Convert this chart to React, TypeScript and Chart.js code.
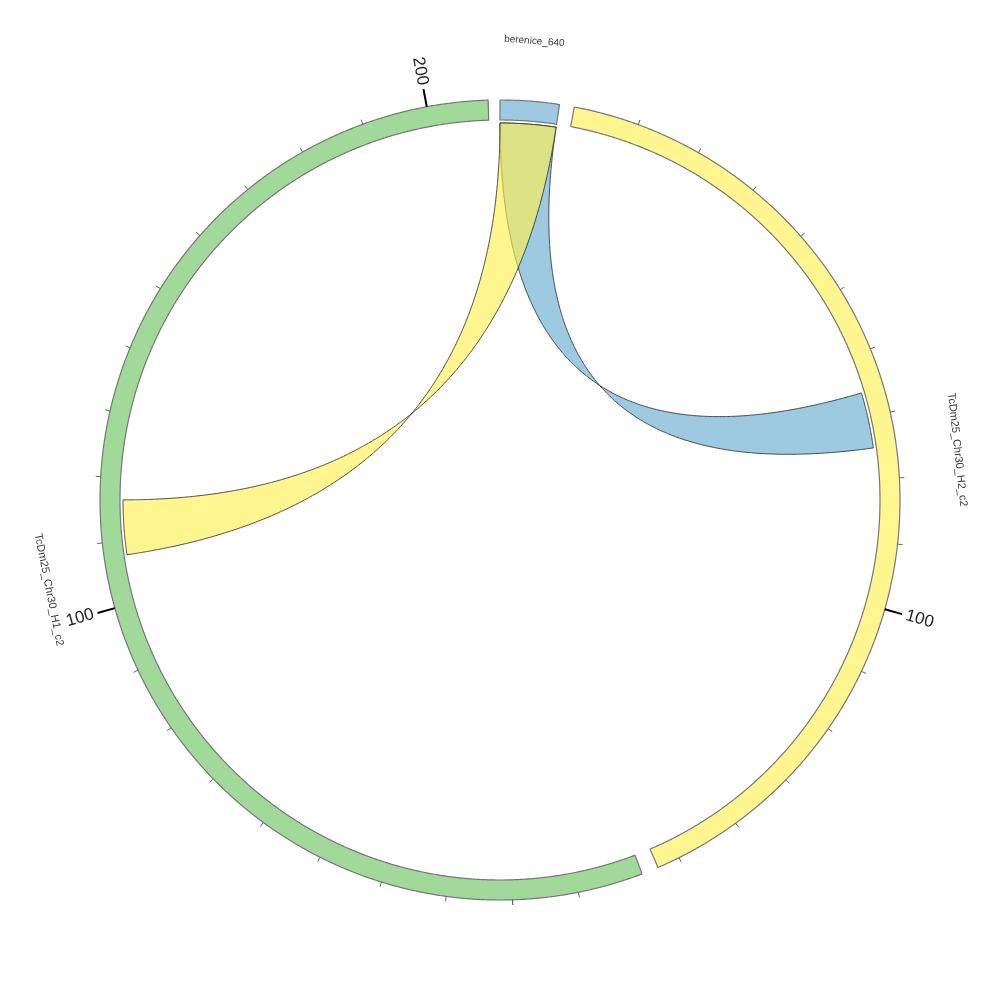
import React, { useEffect, useRef } from "react";
import { Chart, registerables } from "chart.js";

Chart.register(...registerables);

// ---------- data ----------
const sectorNames = ["berenice_640", "TcDm25_Chr30_H2_c2", "TcDm25_Chr30_H1_c2"];
const sectorLengths = [9, 153.5, 209.3];
const sectorColors = ["#9ECAE1", "#FFF68F", "#A1D99B"];
const sectorLabelSizes = [10, 11, 11];

const linkSource = [0, 0];
const linkSourceStart = [0, 0];
const linkSourceEnd = [9, 9];
const linkTarget = [1, 2];
const linkTargetStart = [66.0, 107.7];
const linkTargetEnd = [75.0, 116.5];
const linkColors = ["rgba(101,171,207,0.63)", "rgba(255,241,78,0.63)"];

const tickStep = 10;
const majorTickStep = 100;

// ---------- layout ----------
const GAPS_DEG = [2.15, 2.45, 1.7]; // gap after each sector
const R_OUT = 400;
const R_IN = 380;
const R_LINK = 377;
const R_LABEL = 460;
const MINOR_LEN = 5;
const MAJOR_LEN = 18;

const total = sectorLengths.reduce((a, b) => a + b, 0);
const gapTotal = GAPS_DEG.reduce((a, b) => a + b, 0);
const degPerUnit = (360 - gapTotal) / total;
const sectorStart: number[] = [];
{
  let acc = 0;
  sectorLengths.forEach((len, i) => {
    sectorStart.push(acc);
    acc += len * degPerUnit + GAPS_DEG[i];
  });
}
const ang = (s: number, v: number) => sectorStart[s] + v * degPerUnit;
const pol = (deg: number, r: number) => {
  const a = (deg * Math.PI) / 180;
  return { x: r * Math.sin(a), y: r * Math.cos(a) };
};
const arcPts = (a0: number, a1: number, r: number) => {
  const n = Math.max(2, Math.ceil(Math.abs(a1 - a0) / 0.4));
  const pts = [];
  for (let i = 0; i <= n; i++) pts.push(pol(a0 + ((a1 - a0) * i) / n, r));
  return pts;
};
const bezPts = (p0: { x: number; y: number }, p2: { x: number; y: number }) => {
  const n = 120;
  const pts = [];
  for (let i = 0; i <= n; i++) {
    const t = i / n;
    const a = (1 - t) * (1 - t);
    const c = t * t;
    pts.push({ x: a * p0.x + c * p2.x, y: a * p0.y + c * p2.y });
  }
  return pts;
};

function buildDatasets() {
  const seq: any[] = [];
  // sectors
  sectorLengths.forEach((len, s) => {
    const a0 = ang(s, 0);
    const a1 = ang(s, len);
    const pts = [...arcPts(a0, a1, R_OUT), ...arcPts(a1, a0, R_IN)];
    pts.push({ ...pts[0] });
    seq.push({
      data: pts,
      backgroundColor: sectorColors[s],
      borderColor: "#777777",
      borderWidth: 1.2,
      fill: "shape",
    });
  });
  // ticks
  const minor: any[] = [];
  const major: any[] = [];
  sectorLengths.forEach((len, s) => {
    for (let v = tickStep; v <= len; v += tickStep) {
      const a = ang(s, v);
      const isMajor = v % majorTickStep === 0;
      const target = isMajor ? major : minor;
      target.push(pol(a, R_OUT), pol(a, R_OUT + (isMajor ? MAJOR_LEN : MINOR_LEN)), { x: NaN, y: NaN });
    }
  });
  seq.push({ data: minor, borderColor: "#666666", borderWidth: 1, fill: false, tension: 0 });
  seq.push({ data: major, borderColor: "#000000", borderWidth: 2, fill: false, tension: 0 });
  // links
  linkSource.forEach((src, i) => {
    const tgt = linkTarget[i];
    const s1 = ang(src, linkSourceStart[i]);
    const s2 = ang(src, linkSourceEnd[i]);
    const t1 = ang(tgt, linkTargetStart[i]);
    const t2 = ang(tgt, linkTargetEnd[i]);
    const pts = [
      ...arcPts(s1, s2, R_LINK),
      ...bezPts(pol(s2, R_LINK), pol(t2, R_LINK)),
      ...arcPts(t2, t1, R_LINK),
      ...bezPts(pol(t1, R_LINK), pol(s1, R_LINK)),
    ];
    seq.push({
      data: pts,
      backgroundColor: linkColors[i],
      borderColor: "#1e1e1e",
      borderWidth: 0.8,
      borderJoinStyle: "bevel",
      fill: "shape",
    });
  });
  const n = seq.length;
  return seq.map((d, i) => ({
    showLine: true,
    pointRadius: 0,
    pointHoverRadius: 0,
    tension: 0.0001,
    capBezierPoints: false,
    order: n - i,
    ...d,
  }));
}

const labelPlugin = {
  id: "chordLabels",
  afterDatasetsDraw(chart: any) {
    const { ctx } = chart;
    const xs = chart.scales.x;
    const ys = chart.scales.y;
    const px = (p: { x: number; y: number }) => ({ x: xs.getPixelForValue(p.x), y: ys.getPixelForValue(p.y) });
    ctx.save();
    // sector names
    sectorNames.forEach((name, s) => {
      const mid = ang(s, sectorLengths[s] / 2);
      const p = px(pol(mid, R_LABEL));
      const norm = ((mid % 360) + 360) % 360;
      const rot = norm > 90 && norm < 270 ? norm - 180 : norm;
      ctx.save();
      ctx.translate(p.x, p.y);
      ctx.rotate((rot * Math.PI) / 180);
      ctx.font = `${sectorLabelSizes[s]}px "Liberation Sans", Arial, sans-serif`;
      ctx.fillStyle = "#3a3a3a";
      ctx.textAlign = "center";
      ctx.textBaseline = "middle";
      ctx.fillText(name, 0, 0);
      ctx.restore();
    });
    // major tick labels
    sectorLengths.forEach((len, s) => {
      for (let v = majorTickStep; v <= len; v += majorTickStep) {
        const a = ang(s, v);
        const norm = ((a % 360) + 360) % 360;
        const p = px(pol(a, R_OUT + MAJOR_LEN + 4));
        ctx.save();
        ctx.translate(p.x, p.y);
        let rot: number;
        if (norm > 180) {
          rot = norm - 270;
          ctx.textAlign = "right";
        } else {
          rot = norm - 90;
          ctx.textAlign = "left";
        }
        ctx.rotate((rot * Math.PI) / 180);
        ctx.font = `17px "Liberation Sans", Arial, sans-serif`;
        ctx.fillStyle = "#222222";
        ctx.textBaseline = "middle";
        ctx.fillText(String(v), 0, 0);
        ctx.restore();
      }
    });
    ctx.restore();
  },
};

export default function App() {
  const ref = useRef<HTMLCanvasElement | null>(null);
  useEffect(() => {
    if (!ref.current) return;
    const chart = new Chart(ref.current, {
      type: "scatter",
      data: { datasets: buildDatasets() as any },
      options: {
        animation: false,
        responsive: false,
        maintainAspectRatio: false,
        events: [],
        layout: { padding: 0 },
        plugins: { legend: { display: false }, tooltip: { enabled: false } },
        scales: {
          x: { type: "linear", min: -500, max: 500, display: false },
          y: { type: "linear", min: -500, max: 500, display: false },
        },
      },
      plugins: [labelPlugin],
    });
    return () => chart.destroy();
  }, []);
  return (
    <div style={{ position: "absolute", left: 0, top: 0, width: 1000, height: 1000, background: "#fff" }}>
      <canvas ref={ref} width={1000} height={1000} />
    </div>
  );
}
